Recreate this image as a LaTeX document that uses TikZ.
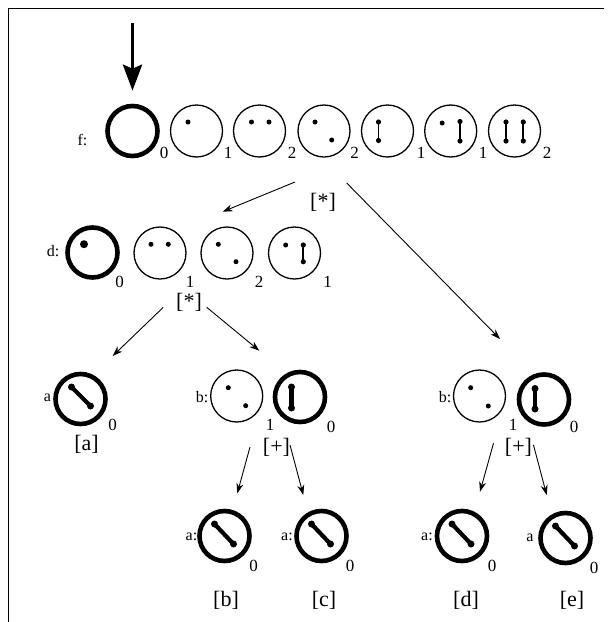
\documentclass[tikz,border=0pt]{standalone}
\usepackage{fontspec}
\setmainfont{Liberation Serif}
\usetikzlibrary{calc,arrows.meta}
\newcommand\spot[3]{\fill ($(#1)+(#2,#3)$) circle (2.5pt);}
\newcommand\thinbar[5]{\draw[line width=1.8pt] ($(#1)+(#2,#3)$) -- ($(#1)+(#4,#5)$);
  \fill ($(#1)+(#2,#3)$) circle (2.6pt); \fill ($(#1)+(#4,#5)$) circle (2.6pt);}
\newcommand\fatbar[5]{\draw[line width=4.2pt] ($(#1)+(#2,#3)$) -- ($(#1)+(#4,#5)$);
  \fill ($(#1)+(#2,#3)$) circle (3.5pt); \fill ($(#1)+(#4,#5)$) circle (3.5pt);}
\begin{document}
\begin{tikzpicture}[x=1pt,y=-1pt,
  thincirc/.style={circle,draw,line width=1.3pt,minimum size=52pt,inner sep=0pt},
  thickcirc/.style={circle,draw,line width=4.6pt,minimum size=50pt,inner sep=0pt},
  lab/.style={anchor=base,inner sep=0pt,font=\fontsize{16}{19}\selectfont},
  subnum/.style={anchor=base,inner sep=0pt,font=\fontsize{17}{20}\selectfont},
  brk/.style={inner sep=0pt,font=\fontsize{22}{26}\selectfont},
  arr/.style={line width=0.9pt,-{Stealth[length=10pt,width=7pt]}},
  bigarr/.style={line width=3.8pt,-{Stealth[length=26pt,width=19pt,inset=4pt]}},
  frameline/.style={line width=1.2pt}]
\useasboundingbox (0,0) rectangle (608,622);
% frame
\draw[frameline] (8.5,622) -- (8.5,8.5) -- (604,8.5);

% row f
\node[thickcirc] (f1) at (132.5,131) {};
\node[thincirc] (f2) at (196.5,131) {};
\node[thincirc] (f3) at (259.5,131) {};
\node[thincirc] (f4) at (324,131) {};
\node[thincirc] (f5) at (387.5,131) {};
\node[thincirc] (f6) at (450.7,131) {};
\node[thincirc] (f7) at (514.5,131) {};
\node[lab] (flab) at (82.5,145) {f:};
\node[subnum] (fs1) at (164,158) {0};
\node[subnum] (fs2) at (228,158) {1};
\node[subnum] (fs3) at (292,158) {2};
\node[subnum] (fs4) at (354.5,158) {2};
\node[subnum] (fs5) at (421,158) {1};
\node[subnum] (fs6) at (483,158) {1};
\node[subnum] (fs7) at (547,158) {2};
\spot{f2}{-8.5}{-9}
\spot{f3}{-8}{-9} \spot{f3}{9.5}{-9}
\spot{f4}{-9}{-9} \spot{f4}{7.7}{9}
\thinbar{f5}{-9}{-9}{-9}{9.5}
\spot{f6}{-8.5}{-8} \thinbar{f6}{9.3}{-9.5}{9.3}{10}
\thinbar{f7}{-8.5}{-9}{-8.5}{10} \thinbar{f7}{8.8}{-9}{8.8}{10}

\coordinate (topstart) at (132.5,23);
\draw[bigarr] (topstart) -- ($(f1.north)+(0,-13)$);

\node[brk] (fstar) at (323,202) {[*]};
\coordinate (ftipL) at (222.7,211.7);
\coordinate (ftipR) at (500,339);
\draw[arr] ($(fstar)+(-28,-20)$) -- (ftipL);
\draw[arr] ($(fstar)+(23.7,-19)$) -- (ftipR);

% row d
\node[thickcirc] (d1) at (92.5,252.5) {};
\node[thincirc] (d2) at (160,253) {};
\node[thincirc] (d3) at (227,253) {};
\node[thincirc] (d4) at (294.5,253) {};
\node[lab] (dlab) at (53,256) {d:};
\fill ($(d1)+(-8.5,-8.3)$) circle (4pt);
\spot{d2}{-9}{-8.7} \spot{d2}{8.3}{-8.7}
\spot{d3}{-8.7}{-8.7} \spot{d3}{9}{8.7}
\spot{d4}{-8.8}{-8} \thinbar{d4}{8.8}{-8}{8.8}{8.7}
\node[subnum] (ds1) at (119.5,287) {0};
\node[subnum] (ds2) at (190,287) {1};
\node[subnum] (ds3) at (259,287) {2};
\node[subnum] (ds4) at (327.5,287) {1};
\node[brk] (dstar) at (189,302.5) {[*]};
\coordinate (dtipL) at (112.7,356);
\coordinate (dtipR) at (259.3,350.7);
\draw[arr] ($(dstar)+(-25.7,4.8)$) -- (dtipL);
\draw[arr] ($(dstar)+(17.7,4.8)$) -- (dtipR);

% left a
\node[thickcirc] (a0) at (80.5,399) {};
\node[lab] (a0lab) at (47.5,401) {a};
\fatbar{a0}{-9}{-12}{10}{7}
\node[subnum] (a0s) at (112.5,430) {0};
\node[brk] (la) at (86.5,444) {[a]};

% middle b
\node[lab] (bmlab) at (202,402) {b:};
\node[thincirc] (bm1) at (236.7,396) {};
\spot{bm1}{-8.4}{-8.3} \spot{bm1}{9}{9.7}
\node[subnum] (bms1) at (270,430) {1};
\node[thickcirc] (bm2) at (300,397) {};
\fatbar{bm2}{-8.5}{-10}{-8.5}{11}
\node[subnum] (bms2) at (331,432) {0};
\node[brk] (bmplus) at (276.5,447) {[+]};
\coordinate (bmtipL) at (237.3,493.3);
\coordinate (bmtipR) at (303.3,495);
\draw[arr] ($(bmplus)+(-26.5,0)$) -- (bmtipL);
\draw[arr] ($(bmplus)+(13.5,-2)$) -- (bmtipR);

% right b
\node[lab] (brlab) at (445,402) {b:};
\node[thincirc] (br1) at (479.5,396) {};
\spot{br1}{-8.8}{-8.3} \spot{br1}{8.8}{10}
\node[subnum] (brs1) at (513,430) {1};
\node[thickcirc] (br2) at (544,399.5) {};
\fatbar{br2}{-9}{-11}{-9}{9.5}
\node[subnum] (brs2) at (574,432) {0};
\node[brk] (brplus) at (518.5,447) {[+]};
\coordinate (brtipL) at (480,491.7);
\coordinate (brtipR) at (546.7,495);
\draw[arr] ($(brplus)+(-25,-3.7)$) -- (brtipL);
\draw[arr] ($(brplus)+(15,-2)$) -- (brtipR);

% bottom a's
\node[thickcirc] (ab) at (224.5,536) {};
\node[lab] (ablab) at (191.5,540) {a:};
\fatbar{ab}{-10}{-12}{9}{8}
\node[subnum] (abs) at (253.5,571) {0};
\node[brk] (lb) at (226,600) {[b]};

\node[thickcirc] (ac) at (321.5,536) {};
\node[lab] (aclab) at (287,540) {a:};
\fatbar{ac}{-10}{-12}{9}{8}
\node[subnum] (acs) at (350,571) {0};
\node[brk] (lc) at (324,600) {[c]};

\node[thickcirc] (ad) at (462,536) {};
\node[lab] (adlab) at (427,540) {a:};
\fatbar{ad}{-10}{-12}{9}{8}
\node[subnum] (ads) at (492,571) {0};
\node[brk] (ld) at (466,600) {[d]};

\node[thickcirc] (ae) at (565.5,538) {};
\node[lab] (aelab) at (530,541) {a};
\fatbar{ae}{-10}{-12}{9}{8}
\node[subnum] (aes) at (594,573) {0};
\node[brk] (le) at (572,600) {[e]};
\end{tikzpicture}
\end{document}
